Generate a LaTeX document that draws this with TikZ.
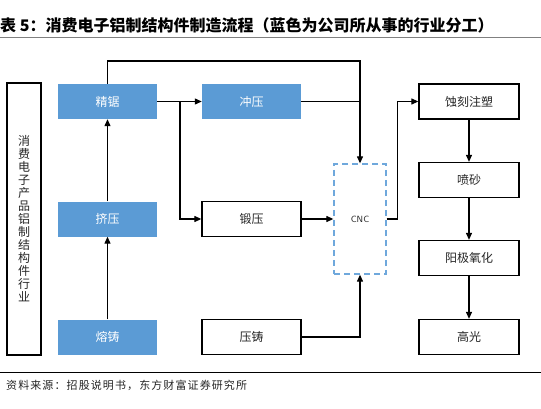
\documentclass[tikz,border=0pt]{standalone}
\usepackage{fontspec}
\usetikzlibrary{arrows.meta}
\setmainfont{Noto Sans CJK SC}
\newfontfamily\cjk{Noto Sans CJK SC}
\newfontfamily\srcfont[LetterSpace=10]{Noto Sans CJK SC}
\definecolor{boxblue}{HTML}{5B9BD5}
\definecolor{dashblue}{HTML}{6FA8DC}
\definecolor{txt}{HTML}{262626}
\tikzset{
  bluebox/.style={fill=boxblue,draw=none,minimum width=99pt,minimum height=35pt,inner sep=0pt,text=white,font=\cjk\fontsize{12}{14}\selectfont},
  whitebox/.style={fill=white,draw=black,line width=1.3pt,minimum width=99pt,minimum height=35pt,inner sep=0pt,text=txt,font=\cjk\fontsize{12}{14}\selectfont},
  conn/.style={draw=black,line width=1.2pt},
  arr/.style={conn,-{Triangle[length=7pt,width=6pt]}},
}
\begin{document}
\begin{tikzpicture}[x=1pt,y=-1pt]
\useasboundingbox (0,0) rectangle (541,409);
\fill[white] (0,0) rectangle (541,409);
% title
\node[anchor=west,inner sep=0pt,font=\cjk\bfseries\fontsize{16}{18}\selectfont] (title) at (0,25) {表 5：消费电子铝制结构件制造流程（蓝色为公司所从事的行业分工）};
\draw[gray,line width=1pt] (0,38) -- (541,38);
% left industry box
\node[draw=black,line width=1.3pt,minimum width=34pt,minimum height=272pt,inner sep=0pt,align=center,text=txt,font=\cjk\fontsize{12}{13}\selectfont] (ind) at (24,219) {消\\费\\电\\子\\产\\品\\铝\\制\\结\\构\\件\\行\\业};
% blue nodes
\node[bluebox] (jj) at (107.5,101.5) {精锯};
\node[bluebox] (jy) at (107.5,219) {挤压};
\node[bluebox] (rz) at (107.5,337) {熔铸};
\node[bluebox] (cy) at (251.5,101.5) {冲压};
% white nodes
\node[whitebox] (dy) at (251.5,219) {锻压};
\node[whitebox] (yz) at (251.5,337) {压铸};
\node[draw=dashblue,dashed,dash pattern=on 6pt off 4pt,line width=1.3pt,minimum width=52pt,minimum height=110pt,inner sep=0pt,font=\sffamily\fontsize{9}{11}\selectfont,text=txt] (cnc) at (360,219) {CNC};
\node[whitebox,minimum width=100pt] (sk) at (469,101.5) {蚀刻注塑};
\node[whitebox,minimum width=100pt] (ps) at (469,180) {喷砂};
\node[whitebox,minimum width=100pt] (yj) at (469,258) {阳极氧化};
\node[whitebox,minimum width=100pt] (gg) at (469,337) {高光};
% connectors
\coordinate (topL) at (107.5,61);
\coordinate (topR) at (360,61);
\coordinate (br) at (180,101.5);
\draw[arr] (rz.north) -- (jy.south);
\draw[arr] (jy.north) -- (jj.south);
\draw[arr] (jj.east) -- (cy.west);
\draw[arr] (br) |- (dy.west);
\draw[arr] (jj.north) -- (topL) -- (topR) -- (cnc.north);
\draw[conn] (cy.east) -- (cy.east -| topR);
\draw[arr] (dy.east) -- (cnc.west);
\draw[arr] (yz.east) -| (cnc.south);
\draw[arr] (cnc.east) -- ++(11,0) |- (sk.west);
\draw[arr] (sk.south) -- (ps.north);
\draw[arr] (ps.south) -- (yj.north);
\draw[arr] (yj.south) -- (gg.north);
% bottom
\draw[black,line width=1pt] (0,372) -- (541,372);
\node[anchor=west,inner sep=0pt,text=txt,font=\srcfont\fontsize{11}{13}\selectfont] (src) at (6,385) {资料来源：招股说明书，东方财富证券研究所};
\end{tikzpicture}
\end{document}
